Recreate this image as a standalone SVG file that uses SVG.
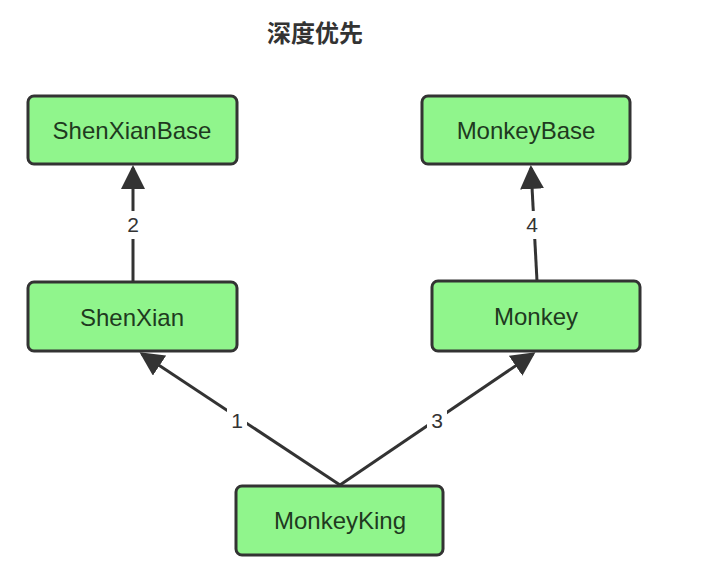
<svg xmlns="http://www.w3.org/2000/svg" width="725" height="582" viewBox="0 0 725 582">
<style>
.node rect{fill:#90f58c;stroke:#333;stroke-width:3}
.node text{font-family:"Liberation Sans",Arial,sans-serif;font-size:24px;fill:#1f3a1f;text-anchor:middle;dominant-baseline:central}
.edge{stroke:#333;stroke-width:3;fill:none;marker-end:url(#arr)}
.lbl{font-family:"Liberation Sans",Arial,sans-serif;font-size:21px;fill:#333;text-anchor:middle;dominant-baseline:central}
</style>
<defs>
<marker id="arr" markerWidth="8" markerHeight="8" refX="7" refY="4" orient="auto" markerUnits="strokeWidth" viewBox="0 0 8 8">
<path d="M0,0 L8,4 L0,8 Z" fill="#333"/>
</marker>
</defs>
<rect width="725" height="582" fill="#fff"/>
<text x="315" y="31" font-family="'Noto Sans CJK SC',sans-serif" font-size="24" font-weight="bold" fill="#333" text-anchor="middle" dominant-baseline="central">深度优先</text>
<g id="connectors">
<line class="edge" x1="133" y1="282" x2="133" y2="168"/>
<line class="edge" x1="537" y1="281" x2="531" y2="168"/>
<line class="edge" x1="340" y1="485" x2="142" y2="354"/>
<line class="edge" x1="340" y1="485" x2="533" y2="354"/>
<rect x="122" y="211" width="22" height="28" fill="#fff"/>
<text class="lbl" x="133" y="224">2</text>
<rect x="522" y="211" width="22" height="28" fill="#fff"/>
<text class="lbl" x="532" y="224">4</text>
<rect x="227" y="406" width="20" height="28" fill="#fff"/>
<text class="lbl" x="237" y="420">1</text>
<rect x="427" y="406" width="20" height="28" fill="#fff"/>
<text class="lbl" x="437" y="420">3</text>
</g>
<g id="ShenXianBase" class="node"><rect x="28" y="96" width="209" height="68" rx="6"/><text x="132" y="130">ShenXianBase</text></g>
<g id="MonkeyBase" class="node"><rect x="422" y="96" width="208" height="68" rx="6"/><text x="526" y="130">MonkeyBase</text></g>
<g id="ShenXian" class="node"><rect x="28" y="282" width="209" height="69" rx="6"/><text x="132" y="317">ShenXian</text></g>
<g id="Monkey" class="node"><rect x="432" y="281" width="208" height="70" rx="6"/><text x="536" y="316">Monkey</text></g>
<g id="MonkeyKing" class="node"><rect x="236" y="486" width="207" height="69" rx="6"/><text x="340" y="520">MonkeyKing</text></g>
</svg>
